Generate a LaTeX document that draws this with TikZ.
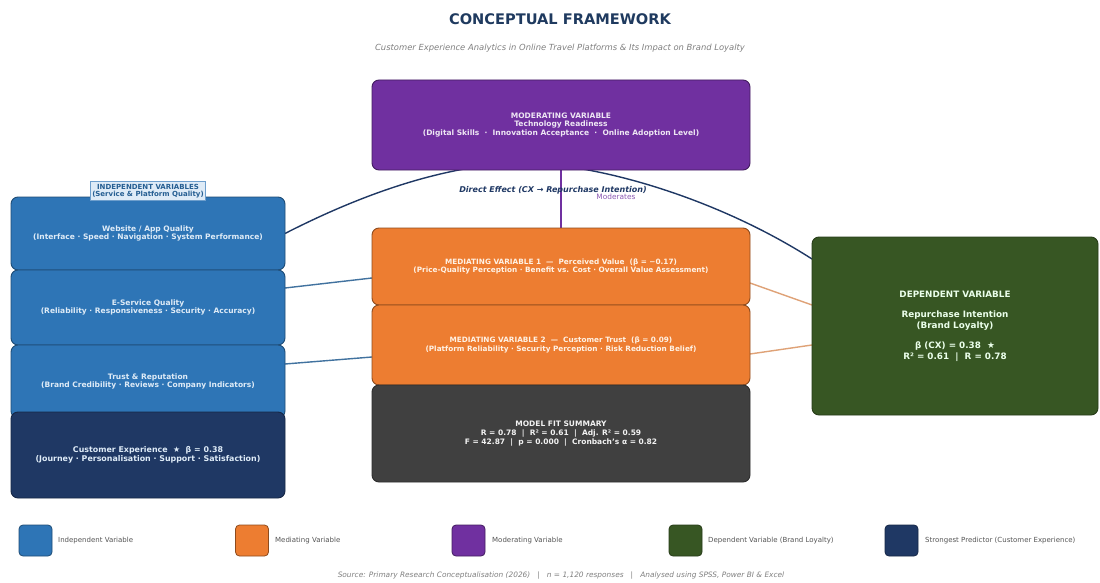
\documentclass[tikz,border=0pt]{standalone}
\usepackage{fontspec}
\setmainfont{DejaVu Sans}
\usetikzlibrary{calc}
\definecolor{cBlue}{HTML}{2E75B6}
\definecolor{cNavy}{HTML}{1F3864}
\definecolor{cOrange}{HTML}{ED7D31}
\definecolor{cPurple}{HTML}{7030A0}
\definecolor{cGreen}{HTML}{375623}
\definecolor{cGray}{HTML}{404040}
\definecolor{cTitle}{HTML}{1F3A5F}
\definecolor{cBlueLine}{HTML}{41729F}
\definecolor{cOrangeLine}{HTML}{DFA277}
\definecolor{cLegText}{HTML}{555555}
\definecolor{cIVfill}{HTML}{DEEBF7}
\pgfdeclarelayer{back}
\pgfdeclarelayer{lines}
\pgfsetlayers{back,lines,main}
\tikzset{
  box/.style={rectangle, rounded corners=7pt, line width=0.9pt, align=center, inner sep=0pt, outer sep=0pt,
    font=\bfseries\fontsize{7.5}{8.8}\selectfont},
  ivbox/.style={box, fill=cBlue, draw=cBlue!65!black, text=cIVfill, minimum width=274pt},
  medbox/.style={box, fill=cOrange, draw=cOrange!60!black, text=orange!10, minimum width=378pt, font=\bfseries\fontsize{7.3}{8.6}\selectfont},
  legsq/.style={rectangle, rounded corners=4pt, line width=0.8pt, minimum width=33pt, minimum height=31pt, inner sep=0pt},
  legtxt/.style={anchor=west, inner sep=0pt, text=cLegText, font=\fontsize{7}{8}\selectfont},
  arcline/.style={draw=cNavy, line width=1.4pt},
  blueline/.style={draw=cBlueLine, line width=1.4pt},
  orangeline/.style={draw=cOrangeLine, line width=1.4pt},
  purpleline/.style={draw=cPurple, line width=1.3pt}
}
\begin{document}
\begin{tikzpicture}[x=1pt,y=-1pt]
\begin{pgfonlayer}{back}
\fill[white] (0,0) rectangle (1100,583);
\end{pgfonlayer}
\useasboundingbox (0,0) rectangle (1100,583);

% titles
\node[text=cTitle, font=\bfseries\fontsize{14.6}{17}\selectfont] (title) at (560,19) {CONCEPTUAL FRAMEWORK};
\node[text=gray, font=\itshape\fontsize{8.4}{10}\selectfont] (subtitle) at (560,48) {Customer Experience Analytics in Online Travel Platforms \& Its Impact on Brand Loyalty};

% moderating
\node[box, fill=cPurple, draw=cPurple!60!black, text=cPurple!12, minimum width=378pt, minimum height=90pt] (mod) at (561,125)
  {MODERATING VARIABLE\\Technology Readiness\\(Digital Skills \ · \ Innovation Acceptance \ · \ Online Adoption Level)};

% independent
\node[ivbox, minimum height=73pt] (web) at (148,233.5) {Website / App Quality\\(Interface · Speed · Navigation · System Performance)};
\node[ivbox, minimum height=75pt] (eserv) at (148,307.5) {E-Service Quality\\(Reliability · Responsiveness · Security · Accuracy)};
\node[ivbox, minimum height=73pt] (trust) at (148,381.5) {Trust \& Reputation\\(Brand Credibility · Reviews · Company Indicators)};
\node[box, fill=cNavy, draw=cNavy!70!black, text=cIVfill, minimum width=274pt, minimum height=86pt, font=\bfseries\fontsize{7.9}{9.5}\selectfont] (cx) at (148,455)
  {Customer Experience \ ★ \ β = 0.38\\(Journey · Personalisation · Support · Satisfaction)};
\node[rectangle, fill=cIVfill, draw=cBlue!70, line width=0.7pt, text=cBlue!80!black, align=center, inner sep=2pt,
  font=\bfseries\fontsize{7}{7.6}\selectfont] (ivlabel) at (148,191) {INDEPENDENT VARIABLES\\(Service \& Platform Quality)};

% mediating
\node[medbox, minimum height=77pt] (med1) at (561,266.5) {MEDIATING VARIABLE 1 \ — \ Perceived Value \ (β = −0.17)\\(Price-Quality Perception · Benefit vs. Cost · Overall Value Assessment)};
\node[medbox, minimum height=80pt] (med2) at (561,345) {MEDIATING VARIABLE 2 \ — \ Customer Trust \ (β = 0.09)\\(Platform Reliability · Security Perception · Risk Reduction Belief)};
\node[box, fill=cGray, draw=cGray!70!black, text=white!90!gray, minimum width=378pt, minimum height=97pt, font=\bfseries\fontsize{7.5}{9}\selectfont] (fit) at (561,433.5)
  {MODEL FIT SUMMARY\\R = 0.78 \ | \ R² = 0.61 \ | \ Adj. R² = 0.59\\F = 42.87 \ | \ p = 0.000 \ | \ Cronbach's α = 0.82};

% dependent
\node[box, fill=cGreen, draw=cGreen!70!black, text=green!8!white, minimum width=286pt, minimum height=178pt, font=\bfseries\fontsize{8.8}{10.5}\selectfont] (dv) at (955,326)
  {DEPENDENT VARIABLE\\[10pt]Repurchase Intention\\(Brand Loyalty)\\[10pt]β (CX) = 0.38 \ ★\\R² = 0.61 \ | \ R = 0.78};

% labels
\node[text=cNavy, font=\bfseries\itshape\fontsize{8}{9}\selectfont] (delabel) at (553,190) {Direct Effect (CX → Repurchase Intention)};
\node[text=cPurple!80, font=\fontsize{7.4}{8}\selectfont] (modlabel) at (616,197) {Moderates};

% connectors
\begin{pgfonlayer}{lines}
\draw[arcline] (web.east) .. controls (370,190) and (450,165) .. (520,163) .. controls (600,163) and (720,200) .. ([yshift=-22pt]dv.north west);
\draw[purpleline] (mod.south) -- (med1.north);
\draw[blueline] ([yshift=19.5pt]eserv.east) -- ([yshift=-11.5pt]med1.west);
\draw[blueline] ([yshift=17.5pt]trust.east) -- ([yshift=-12pt]med2.west);
\draw[orangeline] ([yshift=-16.5pt]med1.east) -- ([yshift=21pt]dv.west);
\draw[orangeline] ([yshift=-9pt]med2.east) -- ([yshift=-19pt]dv.west);
\end{pgfonlayer}

% legend
\node[legsq, fill=cBlue, draw=cBlue!65!black] (lg1) at (35.5,540.5) {};
\node[legtxt] (lt1) at (58,540.5) {Independent Variable};
\node[legsq, fill=cOrange, draw=cOrange!60!black] (lg2) at (252,540.5) {};
\node[legtxt] (lt2) at (275,540.5) {Mediating Variable};
\node[legsq, fill=cPurple, draw=cPurple!60!black] (lg3) at (468.5,540.5) {};
\node[legtxt] (lt3) at (492,540.5) {Moderating Variable};
\node[legsq, fill=cGreen, draw=cGreen!70!black] (lg4) at (685.5,540.5) {};
\node[legtxt] (lt4) at (708,540.5) {Dependent Variable (Brand Loyalty)};
\node[legsq, fill=cNavy, draw=cNavy!70!black] (lg5) at (901.5,540.5) {};
\node[legtxt] (lt5) at (925,540.5) {Strongest Predictor (Customer Experience)};

\node[text=gray, font=\itshape\fontsize{7.4}{8}\selectfont] (source) at (561,576)
  {Source: Primary Research Conceptualisation (2026) \ \ | \ \ n = 1,120 responses \ \ | \ \ Analysed using SPSS, Power BI \& Excel};
\end{tikzpicture}
\end{document}
